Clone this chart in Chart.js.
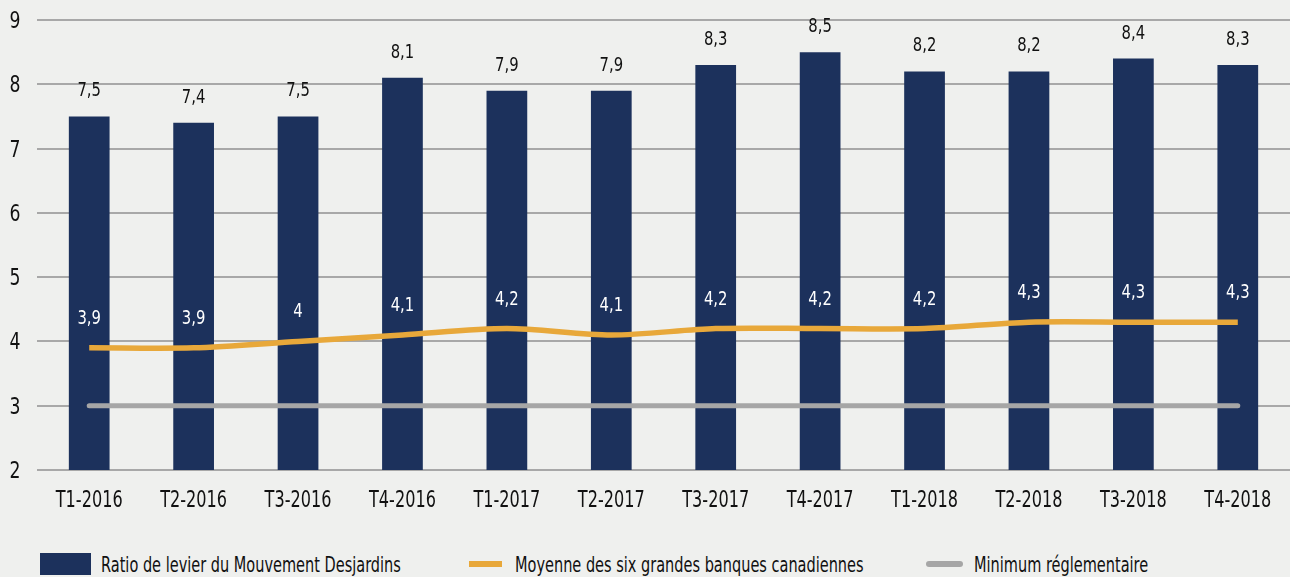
<!DOCTYPE html>
<html>
<head>
<meta charset="utf-8">
<script src="https://cdn.jsdelivr.net/npm/chart.js@4"></script>
<style>
  html, body { margin: 0; padding: 0; background: #eff0ee; overflow: hidden; }
  #wrap { position: relative; width: 1290px; height: 577px; }
  #legend { position: absolute; left: 0; top: 553px; width: 1290px; height: 24px;
    font-family: 'DejaVu Sans', sans-serif; font-size: 22px; color: #111; }
  .sw { position: absolute; }
  .txt { position: absolute; top: 0; line-height: 24px; white-space: nowrap;
    transform: scaleX(0.66); transform-origin: 0 0; }
</style>
</head>
<body>
<div id="wrap">
  <canvas id="chart" width="1290" height="529"></canvas>
  <div id="legend"></div>
</div>
<script>
const categories = ["T1-2016", "T2-2016", "T3-2016", "T4-2016", "T1-2017", "T2-2017",
                    "T3-2017", "T4-2017", "T1-2018", "T2-2018", "T3-2018", "T4-2018"]
const desjardins = [7.5, 7.4, 7.5, 8.1, 7.9, 7.9, 8.3, 8.5, 8.2, 8.2, 8.4, 8.3]
const sixBanques = [3.9, 3.9, 4, 4.1, 4.2, 4.1, 4.2, 4.2, 4.2, 4.3, 4.3, 4.3]
const minimum = [3, 3, 3, 3, 3, 3, 3, 3, 3, 3, 3, 3]
const seriesNames = ["Ratio de levier du Mouvement Desjardins",
                     "Moyenne des six grandes banques canadiennes",
                     "Minimum réglementaire"]
const yTicks = [2, 3, 4, 5, 6, 7, 8, 9]

const FONT = "'DejaVu Sans', sans-serif"
const NAVY = "#1c315c"
const ORANGE = "#e8a83a"
const GREY = "#a6a6a6"

const fmt = v => String(v).replace(".", ",")

// no condensed face installed, so squeeze the text horizontally
function narrowText(ctx, text, x, y, size, color, sx) {
    ctx.save()
    ctx.font = size + "px " + FONT
    ctx.fillStyle = color
    ctx.textAlign = "center"
    ctx.textBaseline = "alphabetic"
    ctx.translate(x, y)
    ctx.scale(sx, 1)
    ctx.fillText(text, 0, 0)
    ctx.restore()
}

// axis labels and value labels
const labelsPlugin = {
    id: "labelsPlugin",
    afterDatasetsDraw(chart) {
        const ctx = chart.ctx
        const xs = chart.scales.x, ys = chart.scales.y
        categories.forEach((c, i) => {
            narrowText(ctx, c, xs.getPixelForTick(i), chart.chartArea.bottom + 37, 23, "#111", 0.7)
        })
        yTicks.forEach(v => {
            narrowText(ctx, String(v), 15, ys.getPixelForValue(v) + 8, 23, "#111", 0.75)
        })
        chart.getDatasetMeta(0).data.forEach((bar, i) => {
            narrowText(ctx, fmt(desjardins[i]), bar.x, bar.y - 20, 19, "#111", 0.78)
        })
        chart.getDatasetMeta(1).data.forEach((pt, i) => {
            narrowText(ctx, fmt(sixBanques[i]), pt.x, pt.y - 24, 19, "#ffffff", 0.78)
        })
    }
}

function setupChart() {
    return new Chart(document.getElementById("chart").getContext("2d"), {
        type: "bar",
        data: {
            labels: categories,
            datasets: [
                {
                    label: seriesNames[0],
                    data: desjardins,
                    backgroundColor: NAVY,
                    barPercentage: 0.39,
                    categoryPercentage: 1,
                    order: 3
                },
                {
                    label: seriesNames[1],
                    type: "line",
                    data: sixBanques,
                    borderColor: ORANGE,
                    borderWidth: 5.5,
                    pointRadius: 0,
                    tension: 0.3,
                    order: 1
                },
                {
                    label: seriesNames[2],
                    type: "line",
                    data: minimum,
                    borderColor: GREY,
                    borderWidth: 5,
                    borderCapStyle: "round",
                    pointRadius: 0,
                    order: 2
                }
            ]
        },
        options: {
            responsive: false,
            animation: false,
            layout: { padding: { top: 20, right: 0, left: 37, bottom: 51 } },
            plugins: {
                legend: { display: false },
                tooltip: { enabled: false }
            },
            scales: {
                x: {
                    grid: { display: false },
                    border: { display: false },
                    ticks: { display: false }
                },
                y: {
                    min: 2,
                    max: 9,
                    afterBuildTicks: s => { s.ticks = yTicks.map(v => ({ value: v })) },
                    grid: { color: "#a8a8a8", lineWidth: 2, drawTicks: false },
                    border: { display: false },
                    ticks: { display: false }
                }
            }
        },
        plugins: [labelsPlugin]
    })
}
setupChart()

// legend row under the chart
const legend = document.getElementById("legend")
const items = [
    { tx: 101, sw: 'left:40px;top:0px;width:51px;height:22px;background:' + NAVY },
    { tx: 515, sw: 'left:469px;top:8px;width:33px;height:6px;background:' + ORANGE },
    { tx: 974, sw: 'left:926px;top:8px;width:37px;height:6px;border-radius:3px;background:' + GREY }
]
items.forEach((it, i) => {
    const sw = document.createElement("span")
    sw.className = "sw"
    sw.style.cssText = it.sw
    legend.appendChild(sw)
    const t = document.createElement("span")
    t.className = "txt"
    t.style.left = it.tx + "px"
    t.textContent = seriesNames[i]
    legend.appendChild(t)
})
</script>
</body>
</html>
